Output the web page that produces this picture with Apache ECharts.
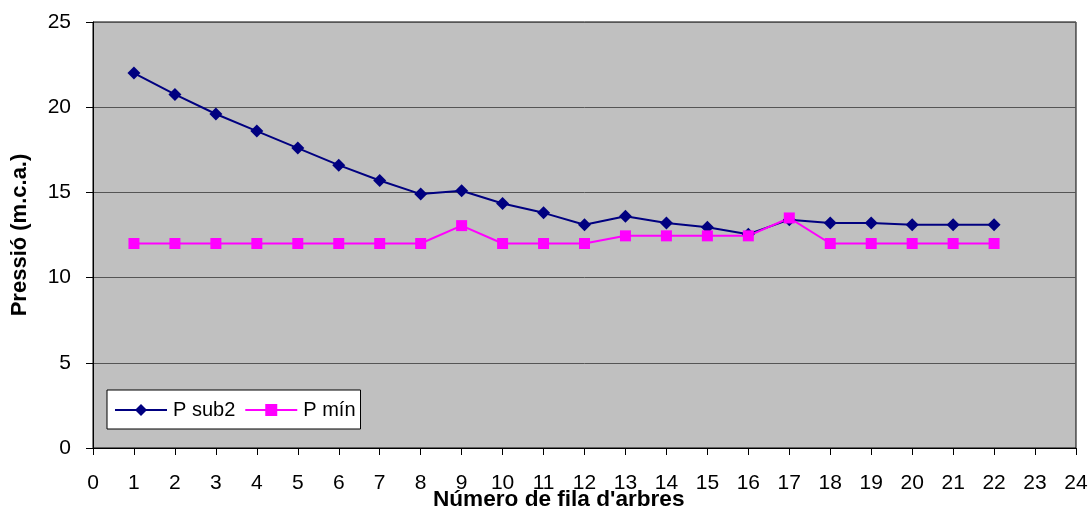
<!DOCTYPE html>
<html><head><meta charset="utf-8">
<script src="https://cdn.jsdelivr.net/npm/echarts@6/dist/echarts.min.js"></script>
<style>html,body{margin:0;padding:0;background:#fff}#c{width:1092px;height:511px}</style>
</head><body><div id="c"></div>
<script>
const rows = [1,2,3,4,5,6,7,8,9,10,11,12,13,14,15,16,17,18,19,20,21,22];
const psub2 = [22.0,20.75,19.6,18.6,17.6,16.6,15.7,14.9,15.1,14.35,13.8,13.1,13.6,13.2,12.95,12.55,13.4,13.2,13.2,13.1,13.1,13.1];
const pmin = [12,12,12,12,12,12,12,12,13.05,12,12,12,12.45,12.45,12.45,12.45,13.5,12,12,12,12,12];
const xTitle = "Número de fila d'arbres";
const yTitle = "Pressió (m.c.a.)";
const chart = echarts.init(document.getElementById('c'));
const font = 'Arial, "Liberation Sans", sans-serif';
chart.setOption({
  animation: false,
  backgroundColor: '#fff',
  title: {
    text: xTitle, left: 433, top: 488, padding: 0,
    textStyle: {fontFamily: font, fontSize: 22.6, fontWeight: 'bold', color: '#000'}
  },
  grid: {left: 93, right: 16, top: 22, bottom: 63, show: true, backgroundColor: '#c0c0c0', borderColor: '#000', borderWidth: 1},
  legend: {
    left: 107, top: 390, width: 252, height: 41,
    backgroundColor: '#fff', borderColor: '#000', borderWidth: 1,
    padding: [10, 5, 9, 7],
    itemWidth: 52, itemHeight: 15, itemGap: 9,
    textStyle: {fontFamily: font, fontSize: 20, color: '#000', padding: [0, 0, 0, 1]},
    data: ['P sub2', 'P mín']
  },
  xAxis: {
    type: 'value', min: 0, max: 24, interval: 1,
    axisLine: {lineStyle: {color: '#000'}},
    axisTick: {show: true, inside: false, length: 7, lineStyle: {color: '#000'}},
    axisLabel: {fontFamily: font, fontSize: 21, color: '#000', margin: 25},
    splitLine: {show: false}
  },
  yAxis: {
    type: 'value', min: 0, max: 25, interval: 5,
    name: yTitle, nameLocation: 'middle', nameGap: 62, nameRotate: 90,
    nameTextStyle: {fontFamily: font, fontSize: 22, fontWeight: 'bold', color: '#000'},
    axisLine: {show: true, lineStyle: {color: '#000'}},
    axisTick: {show: true, inside: false, length: 7, lineStyle: {color: '#000'}},
    axisLabel: {fontFamily: font, fontSize: 21, color: '#000', margin: 22},
    splitLine: {show: true, lineStyle: {color: '#555', width: 1}}
  },
  series: [
    {name: 'P sub2', type: 'line', data: rows.map((r,i)=>[r, psub2[i]]),
     symbol: 'diamond', symbolSize: 13, color: '#000080',
     lineStyle: {color: '#000080', width: 2}, itemStyle: {color: '#000080'}},
    {name: 'P mín', type: 'line', data: rows.map((r,i)=>[r, pmin[i]]),
     symbol: 'rect', symbolSize: 11, color: '#ff00ff',
     lineStyle: {color: '#ff00ff', width: 2}, itemStyle: {color: '#ff00ff'}}
  ]
});
</script></body></html>
